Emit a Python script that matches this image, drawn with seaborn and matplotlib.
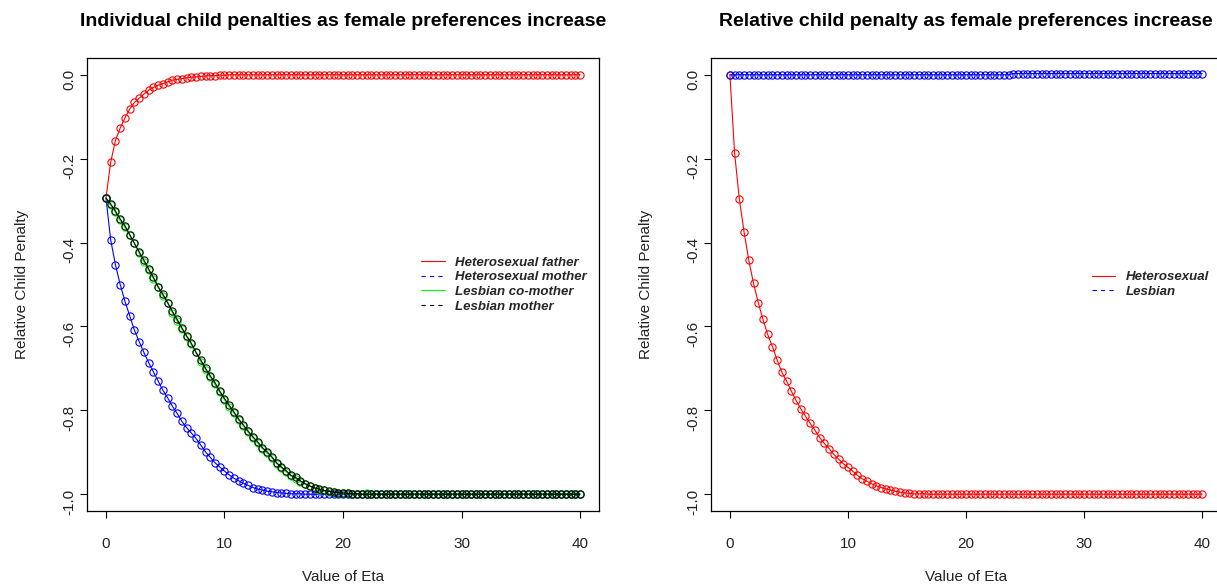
import numpy as np
import matplotlib
matplotlib.use("Agg")
import matplotlib.pyplot as plt
from matplotlib.lines import Line2D
import seaborn as sns

# eta grid (markers every 0.4 from 0 to 40)
eta = np.round(np.arange(101) * 0.4, 1)

# left panel: individual child penalties
het_father = [-0.294, -0.208, -0.157, -0.127, -0.103, -0.082, -0.066, -0.056, -0.046, -0.037,
              -0.030, -0.025, -0.021, -0.017, -0.013, -0.011, -0.009, -0.007, -0.006, -0.005,
              -0.004, -0.003, -0.002, -0.002, -0.001, -0.001] + [0.0] * 75

het_mother = [-0.294, -0.394, -0.453, -0.500, -0.540, -0.574, -0.609, -0.636, -0.662, -0.686,
              -0.708, -0.730, -0.752, -0.770, -0.790, -0.807, -0.826, -0.841, -0.854, -0.867,
              -0.883, -0.899, -0.912, -0.925, -0.935, -0.945, -0.954, -0.962, -0.968, -0.974,
              -0.979, -0.984, -0.988, -0.990, -0.993, -0.994, -0.996, -0.997, -0.998, -0.999,
              -0.999, -0.999] + [-1.0] * 59

les_comother = [-0.294, -0.311, -0.328, -0.347, -0.364, -0.383, -0.402, -0.425, -0.446, -0.466,
                -0.486, -0.507, -0.527, -0.543, -0.567, -0.587, -0.606, -0.625, -0.643, -0.662,
                -0.684, -0.703, -0.721, -0.738, -0.757, -0.775, -0.791, -0.807, -0.823, -0.838,
                -0.852, -0.866, -0.878, -0.891, -0.902, -0.913, -0.927, -0.937, -0.946, -0.956,
                -0.963, -0.970, -0.976, -0.981, -0.985, -0.989, -0.991, -0.994, -0.995, -0.996,
                -0.997, -0.998, -0.999, -0.999, -0.999, -0.998] + [-1.0] * 45

les_mother = [-0.294, -0.308, -0.325, -0.344, -0.360, -0.381, -0.402, -0.422, -0.442, -0.463,
              -0.483, -0.505, -0.523, -0.543, -0.564, -0.583, -0.603, -0.622, -0.640, -0.662,
              -0.680, -0.700, -0.718, -0.734, -0.754, -0.772, -0.788, -0.804, -0.821, -0.835,
              -0.850, -0.863, -0.875, -0.889, -0.899, -0.911, -0.925, -0.935, -0.944, -0.955,
              -0.960, -0.968, -0.975, -0.980, -0.985, -0.988, -0.991, -0.993, -0.995, -0.996,
              -0.997, -0.998, -0.999, -0.999] + [-1.0] * 47

# right panel: relative child penalty
rel_het = [0.0, -0.187, -0.296, -0.375, -0.442, -0.497, -0.543, -0.583, -0.619, -0.648,
           -0.680, -0.709, -0.730, -0.754, -0.776, -0.796, -0.814, -0.831, -0.847, -0.865,
           -0.879, -0.891, -0.905, -0.916, -0.927, -0.936, -0.945, -0.955, -0.963, -0.969,
           -0.975, -0.980, -0.984, -0.987, -0.990, -0.993, -0.995, -0.997, -0.998, -0.999,
           -0.999, -0.999] + [-1.0] * 59

rel_les = [0.0] * 60 + [0.003] * 41

left_labels = ["Heterosexual father", "Heterosexual mother", "Lesbian co-mother", "Lesbian mother"]
right_labels = ["Heterosexual", "Lesbian"]
x_ticks = [0, 10, 20, 30, 40]
y_ticks = [0.0, -0.2, -0.4, -0.6, -0.8, -1.0]
y_ticklabels = ["0.0", "-0.2", "-0.4", "-0.6", "-0.8", "-1.0"]

sns.set_style("ticks")
plt.rcParams["font.family"] = ["Liberation Sans", "DejaVu Sans"]

W, H = 1217, 586
fig = plt.figure(figsize=(W / 100, H / 100), dpi=100)
ax1 = fig.add_axes([87 / W, (H - 511) / H, 512 / W, 453 / H])
ax2 = fig.add_axes([711 / W, (H - 511) / H, 510 / W, 453 / H])

DASH = (0, (3.8, 3.8))


def draw_series(ax, y, color):
    sns.lineplot(x=eta, y=y, ax=ax, color=color, lw=0.8, marker="o", markersize=5.2,
                 markerfacecolor="none", markeredgecolor=color, markeredgewidth=0.8,
                 estimator=None, sort=False)


def style_axes(ax, title):
    ax.set_xlim(-1.6, 41.6)
    ax.set_ylim(-1.04, 0.04)
    ax.set_xticks(x_ticks)
    ax.set_xticklabels([str(t) for t in x_ticks])
    ax.set_yticks(y_ticks)
    ax.set_yticklabels(y_ticklabels)
    for s in ax.spines.values():
        s.set_color("black")
        s.set_linewidth(0.9)
    ax.tick_params(axis="both", direction="out", length=5, width=0.8, color="black",
                   labelcolor="#222222", labelsize=11)
    ax.tick_params(axis="x", pad=13.5)
    ax.tick_params(axis="y", pad=2.5, labelrotation=90)
    ax.set_xlabel("Value of Eta", fontsize=11, color="#222222")
    ax.set_ylabel("Relative Child Penalty", fontsize=11, color="#222222")
    ax.xaxis.set_label_coords(0.5, (511 - 577) / 453)
    ax.xaxis.label.set_va("center")
    ax.yaxis.set_label_coords((22 - 87) / 512, 0.5)
    ax.yaxis.label.set_va("center")
    ax.grid(False)
    bbox = ax.get_position()
    fig.text((bbox.x0 + bbox.x1) / 2, 1 - 22 / H, title, ha="center", va="center",
             fontsize=14, fontweight="bold", color="black")


# left panel
for vals, col in zip([het_father, het_mother, les_comother, les_mother],
                     ["red", "blue", "#00FF00", "black"]):
    draw_series(ax1, vals, col)
style_axes(ax1, "Individual child penalties as female preferences increase")
h1 = [Line2D([], [], color="red", lw=0.8),
      Line2D([], [], color="blue", lw=0.8, ls=DASH),
      Line2D([], [], color="#00FF00", lw=0.8),
      Line2D([], [], color="black", lw=0.8, ls=DASH)]
ax1.legend(h1, left_labels, loc="center right", frameon=False,
           prop={"style": "italic", "weight": "bold", "size": 9.5},
           handlelength=1.8, handletextpad=0.8, labelspacing=0.18)

# right panel
draw_series(ax2, rel_het, "red")
draw_series(ax2, rel_les, "blue")
style_axes(ax2, "Relative child penalty as female preferences increase")
h2 = [Line2D([], [], color="red", lw=0.8),
      Line2D([], [], color="blue", lw=0.8, ls=DASH)]
ax2.legend(h2, right_labels, loc="center right", frameon=False,
           prop={"style": "italic", "weight": "bold", "size": 9.5},
           handlelength=1.8, handletextpad=0.8, labelspacing=0.18)

fig.savefig("out.png", dpi=100)
